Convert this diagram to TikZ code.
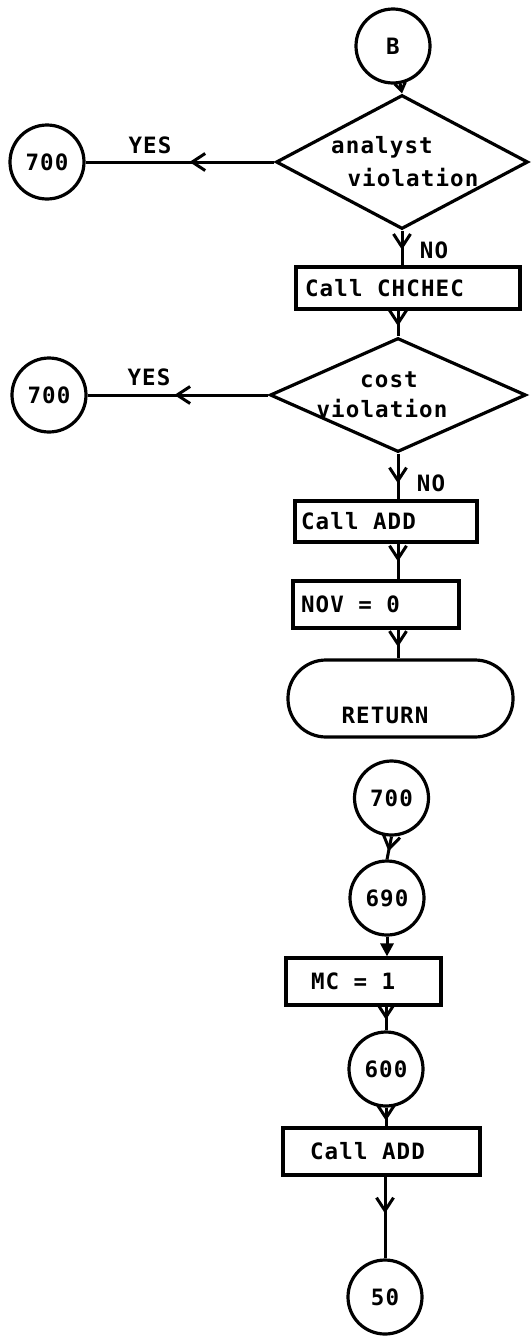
\documentclass[tikz,border=0pt]{standalone}
\usepackage{fontspec}
\newfontfamily\gfont{DejaVu Sans Mono}[LetterSpace=5]
\newcommand\ws{\hspace*{14.5pt}}
\usetikzlibrary{shapes.geometric,arrows.meta,decorations.markings}
\begin{document}
\begin{tikzpicture}[x=1pt,y=-1pt,line width=3.2pt,
  font=\gfont\bfseries\fontsize{22.5pt}{27pt}\selectfont,
  circ/.style={circle,draw,minimum size=74pt,inner sep=0pt},
  dia/.style={diamond,draw,inner sep=0pt},
  pbox/.style={rectangle,draw,align=left,inner ysep=0pt},
  lbl/.style={inner sep=0pt},
  conn/.style={line width=3pt},
  midarrow/.style={conn,postaction={decorate},decoration={markings,
     mark=at position #1 with {\arrow{Straight Barb[length=13pt,width=17pt,line width=3pt]}}}}]
\useasboundingbox (0,0) rectangle (531,1336);
\fill[white] (0,0) rectangle (531,1336);

% top part
\node[circ] (B) at (393,46) {B};
\node[dia,minimum width=252pt,minimum height=134pt] (d1) at (402,162) {};
\node[lbl] (d1a) at (382,147) {analyst};
\node[lbl] (d1b) at (413,178) {violation};
\node[circ] (y1c) at (47,162) {700};
\node[lbl] (yes1) at (150,145) {YES};
\node[lbl] (no1) at (434,250) {NO};

\node[pbox,text width=206pt,inner xsep=9pt,minimum height=42pt] (box1) at (408,288) {Call\ws CHCHEC};

\node[dia,minimum width=256pt,minimum height=114pt] (d2) at (398,395) {};
\node[lbl] (d2a) at (389,380) {cost};
\node[lbl] (d2b) at (382,409) {violation};
\node[circ] (y2c) at (49,395) {700};
\node[lbl] (yes2) at (149,377) {YES};
\node[lbl] (no2) at (431,483) {NO};

\node[pbox,text width=170pt,inner xsep=6pt,minimum height=41pt] (add1) at (386,521.5) {Call\ws ADD};
\node[pbox,text width=150pt,inner xsep=8pt,minimum height=47pt] (nov) at (376,604.5) {NOV\ws=\ws 0};
\node[draw,rectangle,rounded corners=38pt,minimum width=225pt,minimum height=77pt,inner sep=0pt] (ret) at (400.5,698.5) {};
\node[lbl] (rett) at (385,715) {RETURN};

% bottom part
\node[circ] (c700) at (391.5,798) {700};
\node[circ] (c690) at (387,898) {690};
\node[pbox,text width=105pt,inner xsep=25pt,minimum height=47pt] (mc) at (363.5,981.5) {MC\ws=\ws 1};
\node[circ] (c600) at (386,1069) {600};
\node[pbox,text width=143pt,inner xsep=27pt,minimum height=47pt] (add2) at (381.5,1151.5) {Call\ws ADD};
\node[circ] (c50) at (385,1297) {50};

% connectors
\draw[conn,-{Straight Barb[length=8pt,width=11pt,line width=3pt]}] (B) -- (d1.north);
\draw[midarrow=0.55] (d1.south) -- (d1.south |- box1.north);
\draw[midarrow=0.45] (d1.west) -- (y1c.east);
\draw[midarrow=0.6] (d2.north |- box1.south) -- (d2.north);
\draw[midarrow=0.52] (d2.west) -- (y2c.east);
\draw[midarrow=0.65] (d2.south) -- (d2.south |- add1.north);
\draw[midarrow=0.5] (add1.south -| d2.south) -- (nov.north -| d2.south);
\draw[midarrow=0.6] (nov.south -| d2.south) -- (ret.north -| d2.south);

\draw[midarrow=0.65] (c700.south) -- (c690.north);
\draw[conn,-{Triangle[length=13pt,width=13pt]}] (c690.south) -- (c690.south |- mc.north);
\draw[midarrow=0.55] (c600.north |- mc.south) -- (c600.north);
\draw[midarrow=0.7] (c600.south) -- (c600.south |- add2.north);
\draw[midarrow=0.45] (c50.north |- add2.south) -- (c50.north);
\end{tikzpicture}
\end{document}
